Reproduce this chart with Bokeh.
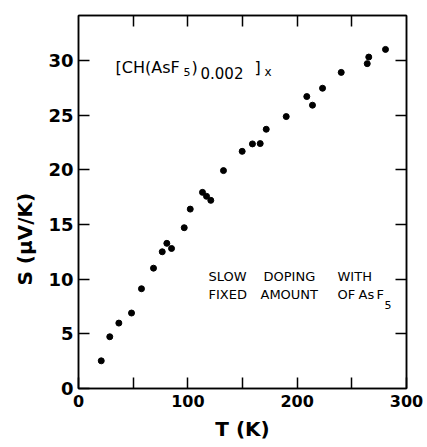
from bokeh.plotting import figure
from bokeh.models import LinearAxis, FixedTicker, Label, Range1d, Title
from bokeh.embed import file_html
from bokeh.resources import INLINE

# ---- data ----
temperature_K = [20.8, 28.6, 36.9, 48.5, 57.6, 68.6, 76.6, 80.8, 85.1, 96.7,
                 102.2, 113.4, 117.1, 121.0, 132.6, 149.7, 159.1, 166.2, 171.7,
                 190.0, 208.8, 214.0, 223.2, 240.3, 264.1, 265.5, 280.8]
seebeck_uV_per_K = [2.53, 4.73, 5.98, 6.9, 9.12, 11.0, 12.5, 13.27, 12.8, 14.7,
                    16.4, 17.93, 17.57, 17.2, 19.92, 21.68, 22.36, 22.39, 23.7,
                    24.86, 26.69, 25.9, 27.45, 28.9, 29.7, 30.3, 31.0]
x_ticks = [0, 50, 100, 150, 200, 250, 300]
x_tick_labels = {0: "0", 50: "", 100: "100", 150: "", 200: "200", 250: "", 300: "300"}
y_ticks = [0, 5, 10, 15, 20, 25, 30]
x_label = "T (K)"
y_label = "S (μV/K)"
note_line1 = ["SLOW", "DOPING", "WITH"]
note_line2 = ["FIXED", "AMOUNT", "OF", "As", "F"]

FONT = "DejaVu Sans"
X0, X1 = 0, 300
Y0, Y1 = 0, 34.1

W, H = 427, 447
# frame geometry (page pixels)
FL, FT, FW, FH = 78, 15, 328, 373

p = figure(width=W, height=H, x_range=Range1d(X0, X1), y_range=Range1d(Y0, Y1),
           output_backend="svg", toolbar_location=None,
           min_border_left=FL, min_border_top=FT,
           min_border_right=W - FL - FW, min_border_bottom=H - FT - FH)
p.xgrid.visible = False
p.ygrid.visible = False
p.outline_line_color = "black"
p.outline_line_width = 1.5
p.background_fill_color = "white"
p.border_fill_color = "white"

def style(ax):
    ax.axis_line_width = 1.5
    ax.axis_line_color = "black"
    ax.major_tick_in = 11
    ax.major_tick_out = 0
    ax.major_tick_line_width = 1.5
    ax.major_tick_line_color = "black"
    ax.minor_tick_line_color = None

xa = p.xaxis[0]
xa.ticker = FixedTicker(ticks=x_ticks)
xa.major_label_overrides = x_tick_labels
style(xa)
xa.major_label_text_font = FONT
xa.major_label_text_font_size = "16px"
xa.major_label_text_font_style = "bold"
xa.major_label_text_color = "black"
xa.major_label_standoff = 6

ya = p.yaxis[0]
ya.ticker = FixedTicker(ticks=y_ticks)
style(ya)
ya.major_label_text_font = FONT
ya.major_label_text_font_size = "18px"
ya.major_label_text_font_style = "bold"
ya.major_label_text_color = "black"
ya.major_label_standoff = 5

top = LinearAxis(ticker=FixedTicker(ticks=x_ticks[1:-1]))
style(top)
top.major_label_text_color = None
top.major_label_text_font_size = "1px"
top.major_label_standoff = 0
p.add_layout(top, "above")

right = LinearAxis(ticker=FixedTicker(ticks=y_ticks[1:]))
style(right)
right.major_label_text_color = None
right.major_label_text_font_size = "1px"
right.major_label_standoff = 0
p.add_layout(right, "right")

p.scatter(temperature_K, seebeck_uV_per_K, size=6, color="black", marker="circle")

# axis titles as side-panel titles
p.add_layout(Title(text=x_label, align="center", text_font=FONT, text_font_size="20px",
                   text_font_style="bold", text_color="black", standoff=10), "below")
p.add_layout(Title(text=y_label, align="left", offset=103, text_font=FONT,
                   text_font_size="20px", text_font_style="bold", text_color="black",
                   standoff=18), "left")

# ---- in-frame annotations (positions given in page pixels, converted to data) ----
def dx(px):
    return X0 + (px - FL) * (X1 - X0) / FW

def dy(py):
    return Y0 + (FT + FH - py) * (Y1 - Y0) / FH

def lab(text, px, py, size, align="left", baseline="alphabetic"):
    p.add_layout(Label(x=dx(px), y=dy(py), text=text, text_font=FONT,
                       text_font_size=size, text_align=align, text_baseline=baseline,
                       text_color="black"))

# formula [CH(AsF5)0.002]x
lab("[CH(AsF", 115, 67, "16px")
lab("5", 183, 71, "11px")
lab(")", 191, 67, "16px")
lab("0.002", 200, 72, "15px")
lab("]", 254, 67, "16px")
lab("x", 264, 71, "12px")

# note
for word, px in zip(note_line1, [208, 263, 337]):
    lab(word, px, 276, "13px")
for word, px in zip(note_line2, [208, 260, 337, 358, 376]):
    lab(word, px, 294, "13px")
lab("5", 384, 304, "11px")

open("out.html", "w").write(file_html(p, INLINE))
